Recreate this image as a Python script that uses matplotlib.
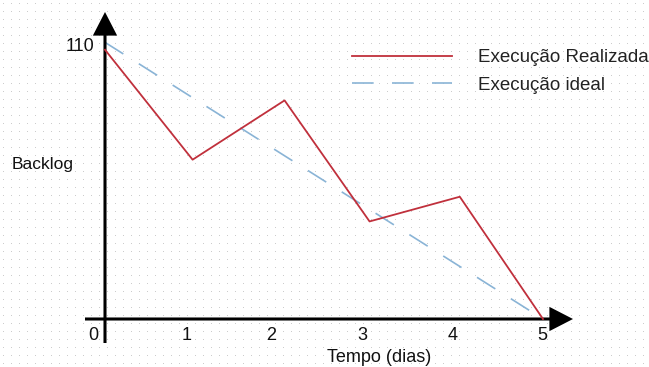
import matplotlib.pyplot as plt
import numpy as np

plt.rcParams['font.family'] = ['Liberation Sans', 'DejaVu Sans']

# data
dias = [0, 1, 2.05, 3.02, 4.05, 5]
realizado = [109, 64.5, 88.5, 39.5, 49.5, 0]
ideal_x = [0, 5]
ideal_y = [112, 0]
ticks = [0, 1, 2, 3, 4, 5]
labels = ["Execução Realizada", "Execução ideal"]

W, H = 649, 367
fig = plt.figure(figsize=(W / 100, H / 100), dpi=100)

# dotted paper background
bg = np.ones((H, W, 3))
bg[3::8, 3::8] = 0.8
fig.figimage(bg, 0, 0, zorder=-5)

ax = fig.add_axes([0, 0, 1, 1])
ax.patch.set_alpha(0)
ax.set_axis_off()

# pixel mapping: x=0 at px 105, 87.6 px per day; y=0 at px 319, 2.47 px per unit
px_x = 87.6
px_y = 2.47
ax.set_xlim(-105 / px_x, (W - 105) / px_x)
ax.set_ylim(-(H - 319) / px_y, 319 / px_y)

# axes with arrow heads
arrow = dict(width=2.2, headwidth=17.5, headlength=17, lw=0, color='black',
             shrink=0)
ax.annotate('', xy=(0, 307 / px_y), xytext=(0, -24 / px_y), arrowprops=arrow)
ax.annotate('', xy=(468 / px_x, 0), xytext=(-20 / px_x, 0), arrowprops=arrow)

ax.plot(dias, realizado, color='#c0303c', lw=1.3, label=labels[0], zorder=3)
ax.plot(ideal_x, ideal_y, color='#8ab4d6', lw=1.2, dashes=(13, 11),
        label=labels[1], zorder=2)

offs = [-12, -6, -9, -5, -3, -1]
for t, o in zip(ticks, offs):
    ax.text(t + o / px_x, -16 / px_y, str(t), ha='center', va='center',
            fontsize=13, color='#111111')

ax.text(-11 / px_x, 110.5, "110", ha='right', va='center', fontsize=13,
        color='#111111')
ax.text(-93 / px_x, 62.5, "Backlog", ha='left', va='center', fontsize=12.5,
        color='#111111')
ax.text((379 - 105) / px_x, -39 / px_y, "Tempo (dias)", ha='center',
        va='center', fontsize=13, color='#111111')

leg = ax.legend(loc='upper left', bbox_to_anchor=(352 / W, 1 - 49 / H),
                frameon=False, fontsize=13.5, handlelength=5.33,
                handletextpad=1.39, labelspacing=0.55, borderaxespad=0,
                borderpad=0)
for txt in leg.get_texts():
    txt.set_color('#222222')

fig.savefig('out.png', dpi=100)
